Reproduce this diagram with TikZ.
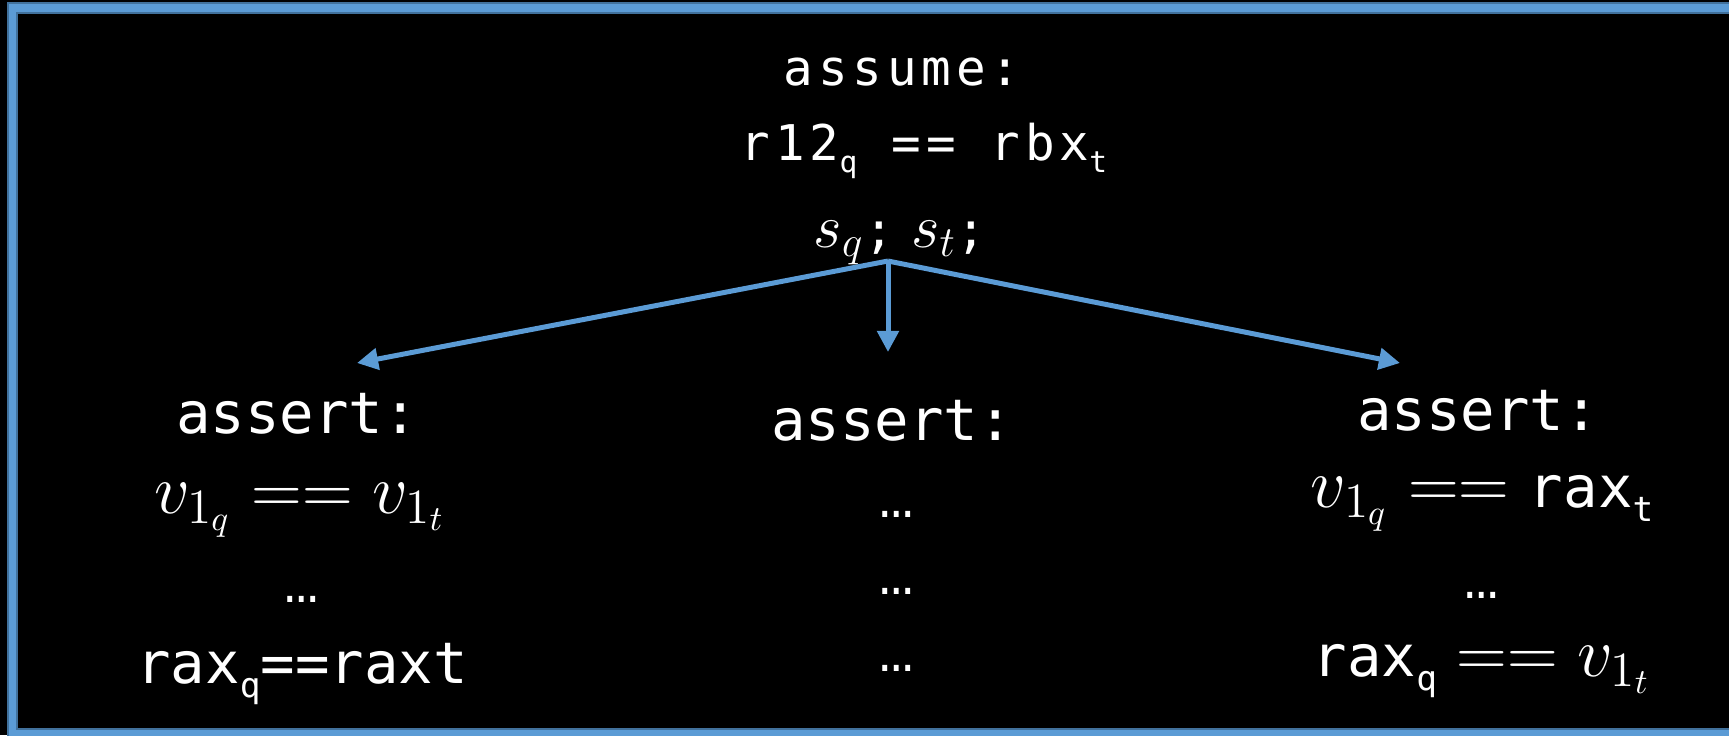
\RequirePackage{fix-cm}
\documentclass[tikz,border=0pt]{standalone}
\usepackage{fontspec}
\usepackage{graphicx}
\setmonofont{DejaVu Sans Mono}
\newfontfamily\spacedmono[LetterSpace=10]{DejaVu Sans Mono}
\newfontfamily\dotsmono{Liberation Mono}
\usepackage{tikz}
\usetikzlibrary{arrows.meta,positioning}
\definecolor{frameblue}{RGB}{91,155,213}
\definecolor{framedark}{RGB}{65,113,156}
\newcommand{\bigmath}[1]{{\fontsize{20}{24}\selectfont$#1$}}
\newcommand{\smallmath}[1]{{\fontsize{17.5}{20}\selectfont$#1$}}
\newcommand{\monosub}[1]{\raisebox{-0.26em}{\scalebox{0.6}{#1}}}

\begin{document}
\begin{tikzpicture}[
    x=0.01cm, y=-0.01cm,
    toptext/.style={anchor=base, text=white, inner sep=0pt, font=\fontsize{14}{17}\spacedmono},
    bottext/.style={anchor=base, text=white, inner sep=0pt, font=\fontsize{16.3}{20}\selectfont\ttfamily},
    dotstext/.style={bottext, font=\fontsize{16.3}{20}\dotsmono},
    link/.style={frameblue, line width=1.42pt, -{Triangle[length=6pt,width=6pt]}}
]
\useasboundingbox (0,0) rectangle (1729,735);
\fill[black] (0,0) rectangle (1729,735);

% Frame
\draw[framedark, line width=3.2pt] (12.5,8) rectangle (1745,734);
\draw[frameblue, line width=2.2pt] (12.5,8) rectangle (1745,734);

% Assumption block
\node[toptext] (assume) at (902,85) {assume:};
\node[toptext] (regeq) at (924,160) {r12\monosub{q} == rbx\monosub{t}};
\node[toptext] (states) at (900,247) {\smallmath{s_q};\hspace{0.35em}\smallmath{s_t};};

% Left assertion
\node[bottext] (lassert) at (297,433) {assert:};
\node[bottext] (lfirst) at (300,513) {\bigmath{v_{1_q} == v_{1_t}}};
\node[dotstext] (ldots) at (302,602) {…};
\node[bottext] (llast) at (302,683) {rax\monosub{q}==raxt};

% Middle assertion
\node[bottext] (massert) at (892,440) {assert:};
\node[dotstext] (mdotsa) at (897,517) {…};
\node[dotstext] (mdotsb) at (897,594) {…};
\node[dotstext] (mdotsc) at (897,671) {…};

% Right assertion
\node[bottext] (rassert) at (1478,430) {assert:};
\node[bottext] (rfirst) at (1482,507) {\bigmath{v_{1_q} == {}}rax\monosub{t}};
\node[dotstext] (rdots) at (1482,598) {…};
\node[bottext] (rlast) at (1482,676) {rax\monosub{q}\bigmath{{} == v_{1_t}}};

% Arrows
\coordinate (fork) at (888,261);
\coordinate (ltip) at (357,363);
\coordinate (mtip) at (888,352);
\coordinate (rtip) at (1400,363);
\draw[link] (fork) -- (ltip);
\draw[link] (fork) -- (mtip);
\draw[link] (fork) -- (rtip);

\end{tikzpicture}
\end{document}
